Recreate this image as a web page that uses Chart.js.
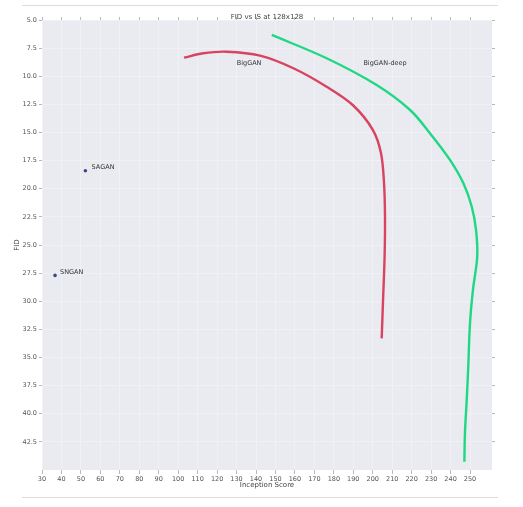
<!DOCTYPE html>
<html>
<head>
<meta charset="utf-8">
<script src="https://cdn.jsdelivr.net/npm/chart.js@4.4.1/dist/chart.umd.min.js"></script>
<style>
  body { margin: 0; background: #fff; }
  #wrap { position: relative; width: 523px; height: 507px; }
  .rule { position: absolute; left: 22px; width: 476px; height: 1px; background: #dcdcdc; }
  canvas { position: absolute; left: 0; top: 0; }
</style>
</head>
<body>
<div id="wrap">
  <div class="rule" style="top:5px"></div>
  <div class="rule" style="top:497px"></div>
  <canvas id="myChart" width="523" height="507"></canvas>
</div>
<script>
// values
const bigganIS  = [103.0, 112.8, 124.9, 142.1, 159.2, 176.3, 190.0, 200.1, 204.2, 205.8, 206.3, 206.1, 205.3, 204.6];
const bigganFID = [8.35, 7.96, 7.82, 8.17, 9.29, 10.93, 12.6, 14.78, 16.8, 19.5, 22.5, 26.0, 29.9, 33.3];

const deepIS  = [148.1, 176.3, 202.0, 219.2, 229.4, 239.7, 246.6, 250.9, 253.1, 253.7, 251.5, 250.0, 249.1, 248.3, 247.4, 247.1];
const deepFID = [6.33, 8.40, 10.78, 13.0, 15.07, 17.44, 19.52, 21.6, 23.67, 26.04, 29.0, 31.93, 35.82, 38.78, 41.71, 44.26];

const saganPoint = { x: 52.3, y: 18.4 };
const snganPoint = { x: 36.7, y: 27.7 };

const xTicks = [30, 40, 50, 60, 70, 80, 90, 100, 110, 120, 130, 140, 150, 160, 170, 180, 190, 200, 210, 220, 230, 240, 250];
const yTicks = [5.0, 7.5, 10.0, 12.5, 15.0, 17.5, 20.0, 22.5, 25.0, 27.5, 30.0, 32.5, 35.0, 37.5, 40.0, 42.5];

// text labels placed at data coordinates
const noteText = ['BigGAN', 'BigGAN-deep', 'SAGAN', 'SNGAN'];
const noteIS   = [130.1, 195.2, 55.5, 39.3];
const noteFID  = [8.85, 8.85, 18.1, 27.45];

const fontFamily = "'DejaVu Sans', sans-serif";

function toPoints(xs, ys) {
	return xs.map((v, i) => ({ x: v, y: ys[i] }));
}

function setTicks(list) {
	return function (axis) {
		axis.ticks = list.map(v => ({ value: v }));
	};
}

const plotBackground = {
	id: 'plotBackground',
	beforeDraw(chart) {
		const a = chart.chartArea;
		const ctx = chart.ctx;
		ctx.save();
		ctx.fillStyle = '#eaeaf1';
		ctx.fillRect(a.left, a.top, a.right - a.left, a.bottom - a.top);
		ctx.restore();
	}
};

const notes = {
	id: 'notes',
	afterDatasetsDraw(chart) {
		const ctx = chart.ctx;
		ctx.save();
		ctx.font = "6.5px " + fontFamily;
		ctx.fillStyle = '#333';
		ctx.textAlign = 'left';
		ctx.textBaseline = 'middle';
		for (var i = 0; i < noteText.length; i++) {
			var px = chart.scales.x.getPixelForValue(noteIS[i]);
			var py = chart.scales.y.getPixelForValue(noteFID[i]);
			ctx.fillText(noteText[i], px, py);
		}
		ctx.restore();
	}
};

const tickFont = { family: fontFamily, size: 6.5 };
const tickColor = '#555';
const markColor = '#b8b8b8';
const gridColor = '#f1f1f5';

var ctx = document.getElementById('myChart').getContext('2d');
var fidChart = new Chart(ctx, {
	type: 'scatter',
	data: {
		datasets: [
			{
				label: 'BigGAN',
				data: toPoints(bigganIS, bigganFID),
				showLine: true,
				borderColor: '#d8435f',
				borderWidth: 2.4,
				pointRadius: 0,
				tension: 0.35
			},
			{
				label: 'BigGAN-deep',
				data: toPoints(deepIS, deepFID),
				showLine: true,
				borderColor: '#1fd882',
				borderWidth: 2.4,
				pointRadius: 0,
				tension: 0.35
			},
			{
				label: 'SAGAN',
				data: [saganPoint],
				backgroundColor: '#3b4a86',
				borderWidth: 0,
				pointRadius: 1.8
			},
			{
				label: 'SNGAN',
				data: [snganPoint],
				backgroundColor: '#3b4a86',
				borderWidth: 0,
				pointRadius: 1.8
			}
		]
	},
	options: {
		responsive: false,
		animation: false,
		layout: { padding: { left: 0, right: 27, top: 0, bottom: 0 } },
		plugins: {
			legend: { display: false },
			tooltip: { enabled: false }
		},
		scales: {
			x: {
				type: 'linear',
				position: 'bottom',
				min: 30,
				max: 261.3,
				afterBuildTicks: setTicks(xTicks),
				afterFit(axis) { axis.height = 37; },
				ticks: { font: tickFont, color: tickColor, padding: 1, maxRotation: 0, autoSkip: false },
				grid: { color: gridColor, lineWidth: 1, tickColor: markColor, tickLength: 4 },
				border: { display: false },
				title: { display: true, text: 'Inception Score', font: { family: fontFamily, size: 7 }, color: '#444', padding: { top: 0, bottom: 17.8 } }
			},
			x2: {
				type: 'linear',
				position: 'top',
				min: 30,
				max: 261.3,
				afterBuildTicks: setTicks(xTicks),
				afterFit(axis) { axis.height = 20; },
				ticks: { display: false },
				grid: { drawOnChartArea: false, tickColor: markColor, tickLength: 3 },
				border: { display: false },
				title: { display: true, text: 'FID vs IS at 128x128', font: { family: fontFamily, size: 7 }, color: '#444', padding: { top: 12.8, bottom: 0 } }
			},
			y: {
				type: 'linear',
				position: 'left',
				min: 5,
				max: 45,
				reverse: true,
				afterBuildTicks: setTicks(yTicks),
				afterFit(axis) { axis.width = 42; },
				ticks: { font: tickFont, color: tickColor, padding: 2, autoSkip: false, callback: v => v.toFixed(1) },
				grid: { color: gridColor, lineWidth: 1, tickColor: markColor, tickLength: 3 },
				border: { display: false },
				title: { display: true, text: 'FID', font: { family: fontFamily, size: 7 }, color: '#444', padding: { top: 13.3, bottom: 0 } }
			},
			y2: {
				type: 'linear',
				position: 'right',
				min: 5,
				max: 45,
				reverse: true,
				afterBuildTicks: setTicks(yTicks),
				afterFit(axis) { axis.width = 4; },
				ticks: { display: false },
				grid: { drawOnChartArea: false, tickColor: markColor, tickLength: 3 },
				border: { display: false }
			}
		}
	},
	plugins: [plotBackground, notes]
});
</script>
</body>
</html>
